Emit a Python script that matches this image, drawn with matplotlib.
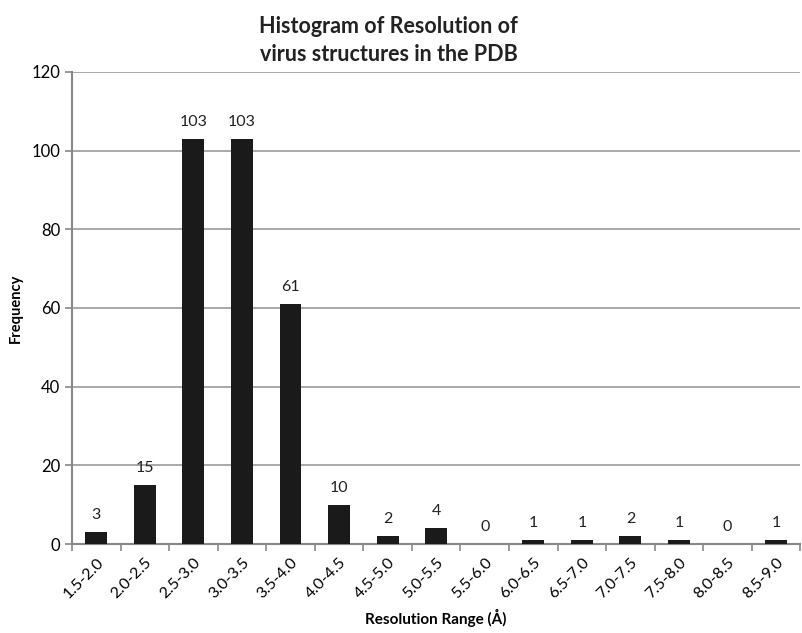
import numpy as np
import matplotlib.pyplot as plt

ranges = ['1.5-2.0', '2.0-2.5', '2.5-3.0', '3.0-3.5', '3.5-4.0', '4.0-4.5', '4.5-5.0',
          '5.0-5.5', '5.5-6.0', '6.0-6.5', '6.5-7.0', '7.0-7.5', '7.5-8.0', '8.0-8.5', '8.5-9.0']
counts = [3, 15, 103, 103, 61, 10, 2, 4, 0, 1, 1, 2, 1, 0, 1]

plt.rcParams['font.family'] = ['Lato', 'DejaVu Sans']

fig = plt.figure(figsize=(8.03, 6.33), dpi=100)
ax = fig.add_axes([0.0897, 0.1406, 0.907, 0.7457])

x = np.arange(len(ranges))
ax.bar(x, counts, width=0.45, color='#1a1a1a', zorder=3)
for xi, c in zip(x, counts):
    ax.text(xi, c + 2.5, str(c), ha='center', va='bottom', fontsize=11.5, color='#222222')

ax.set_xlim(-0.5, len(ranges) - 0.5)
ax.set_ylim(0, 120)
ax.set_yticks(np.arange(0, 121, 20))
ax.grid(axis='y', color='#9a9a9a', linewidth=1.2, zorder=0)

ax.set_xticks(x)
ax.set_xticklabels(ranges, rotation=45, ha='right', rotation_mode='anchor', fontsize=11.5)
ax.set_xticks(np.arange(-0.5, len(ranges), 1), minor=True)
ax.tick_params(axis='x', which='major', length=0, pad=8)
ax.tick_params(axis='x', which='minor', length=5, color='#888888', width=1.2)
ax.tick_params(axis='y', length=5, color='#888888', width=1.2, labelsize=12)

for s in ['top', 'right']:
    ax.spines[s].set_visible(False)
for s in ['left', 'bottom']:
    ax.spines[s].set_color('#888888')
    ax.spines[s].set_linewidth(1.5)

ax.set_ylabel('Frequency', fontsize=10.5, fontweight='bold', labelpad=6)
ax.set_xlabel('Resolution Range (Å)', fontsize=11, fontweight='bold', labelpad=6)
fig.text(0.484, 0.975, 'Histogram of Resolution of\nvirus structures in the PDB', fontsize=15.5,
         fontweight='bold', color='#222222', ha='center', va='top', linespacing=1.45)

fig.savefig('out.png', dpi=100)
